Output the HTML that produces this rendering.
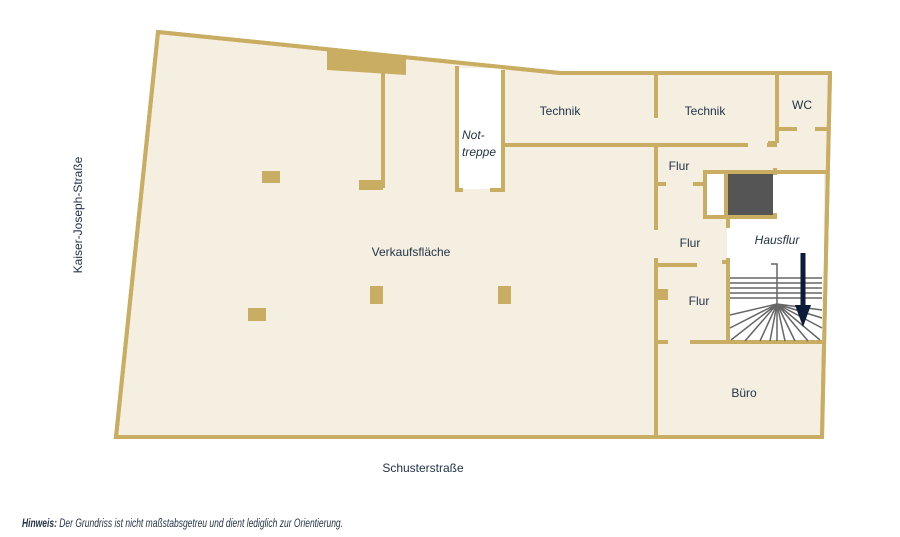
<!DOCTYPE html>
<html><head><meta charset="utf-8"><style>
html,body{margin:0;padding:0;background:#fff;width:900px;height:537px;overflow:hidden}
svg{display:block}
text{font-family:"Liberation Sans",sans-serif;fill:#243447;font-size:12px}
</style></head><body>
<svg width="900" height="537" viewBox="0 0 900 537">
<g stroke="#c9ad63" stroke-width="4" fill="none">
<polygon points="158,32 560,73 830,73 822,437 116,437" fill="#f4efe1"/>
</g>
<rect x="458" y="68" width="44" height="121" fill="#fff"/>
<rect x="727" y="172" width="97" height="170" fill="#fff"/>
<rect x="706" y="174" width="20" height="42" fill="#fff"/>
<rect x="726" y="174" width="47" height="41" fill="#555"/>
<g stroke="#c9ad63" stroke-width="4" fill="none">
<polyline points="158,32 560,73 830,73 822,437 116,437 158,32"/>
<line x1="457" y1="66" x2="457" y2="190"/>
<line x1="503" y1="70" x2="503" y2="190"/>
<line x1="455" y1="190" x2="463" y2="190"/>
<line x1="490" y1="190" x2="505" y2="190"/>
<line x1="383" y1="73" x2="383" y2="188"/>
<line x1="503" y1="145" x2="748" y2="145"/>
<line x1="767" y1="145" x2="777" y2="145"/>
<line x1="656" y1="73" x2="656" y2="118"/>
<line x1="656" y1="145" x2="656" y2="230"/>
<line x1="656" y1="184" x2="666" y2="184"/>
<line x1="693" y1="184" x2="705" y2="184"/>
<line x1="656" y1="258" x2="656" y2="437"/>
<line x1="656" y1="265" x2="697" y2="265"/>
<line x1="656" y1="342" x2="668" y2="342"/>
<line x1="690" y1="342" x2="822" y2="342"/>
<line x1="777" y1="73" x2="777" y2="143"/>
<line x1="768" y1="143" x2="777" y2="143"/>
<line x1="777" y1="129" x2="797" y2="129"/>
<line x1="815" y1="129" x2="828" y2="129"/>
<line x1="703" y1="172" x2="826" y2="172"/>
<line x1="705" y1="172" x2="705" y2="217"/>
<line x1="703" y1="217" x2="775" y2="217"/>
<line x1="775" y1="168" x2="775" y2="175"/>
<line x1="775" y1="213" x2="775" y2="219"/>
<line x1="726" y1="172" x2="726" y2="217"/>
<line x1="728" y1="217" x2="728" y2="228"/>
<line x1="728" y1="258" x2="728" y2="342"/>
<line x1="722" y1="262" x2="728" y2="262"/>
</g>
<g fill="#c9ad63">
<polygon points="327,50 406,58 406,75 327,70"/>
<rect x="359" y="180" width="24" height="10"/>
<rect x="262" y="171" width="18" height="12"/>
<rect x="248" y="308" width="18" height="13"/>
<rect x="370" y="286" width="13" height="18"/>
<rect x="498" y="286" width="13" height="18"/>
<rect x="656" y="289" width="12" height="11"/>
</g>
<g stroke="#666" stroke-width="1.5" fill="none">
<line x1="730" y1="278" x2="822" y2="278"/>
<line x1="730" y1="283" x2="822" y2="283"/>
<line x1="730" y1="288" x2="822" y2="288"/>
<line x1="730" y1="293" x2="822" y2="293"/>
<line x1="730" y1="298" x2="822" y2="298"/>
<polyline points="771,264 777,264 777,341"/>
<path d="M777,304 L730,315 M777,304 L730,328 M777,304 L731,340 M777,304 L745,341 M777,304 L760,341 M777,304 L770,341 M777,304 L785,341 M777,304 L795,341 M777,304 L808,341 M777,304 L822,310 M777,304 L822,318 M777,304 L822,328 M777,304 L820,340"/>
</g>
<line x1="803" y1="253" x2="803" y2="308" stroke="#0d1b3a" stroke-width="5"/>
<polygon points="795,305 811,305 803,327" fill="#0d1b3a"/>
<text x="560" y="115" text-anchor="middle">Technik</text>
<text x="705" y="115" text-anchor="middle">Technik</text>
<text x="802" y="109" text-anchor="middle">WC</text>
<text x="679" y="170" text-anchor="middle">Flur</text>
<text x="690" y="247" text-anchor="middle">Flur</text>
<text x="699" y="305" text-anchor="middle">Flur</text>
<text x="777" y="244" text-anchor="middle" font-style="italic">Hausflur</text>
<text x="744" y="397" text-anchor="middle">Büro</text>
<text x="411" y="256" text-anchor="middle">Verkaufsfläche</text>
<text x="462" y="139" font-style="italic">Not-</text>
<text x="462" y="156" font-style="italic">treppe</text>
<text x="0" y="0" text-anchor="middle" transform="translate(82,215) rotate(-90)">Kaiser-Joseph-Straße</text>
<text x="423" y="472" text-anchor="middle">Schusterstraße</text>
<text x="22" y="527" font-size="7.5" font-style="italic" textLength="321" lengthAdjust="spacingAndGlyphs"><tspan font-weight="bold">Hinweis:</tspan> Der Grundriss ist nicht maßstabsgetreu und dient lediglich zur Orientierung.</text>
</svg>
</body></html>
